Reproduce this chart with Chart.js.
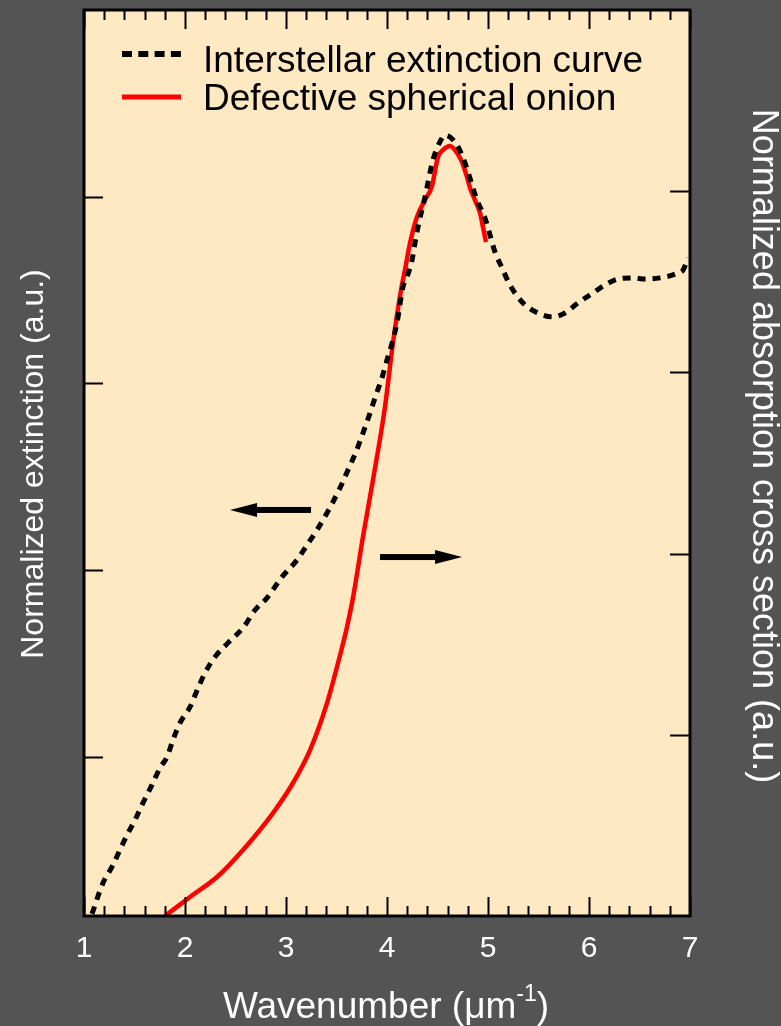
<!DOCTYPE html>
<html>
<head>
<meta charset="utf-8">
<script src="https://cdn.jsdelivr.net/npm/chart.js@4.4.1/dist/chart.umd.min.js"></script>
<style>
  html, body { margin: 0; padding: 0; background: #545454; }
  #wrap { width: 781px; height: 1026px; }
</style>
</head>
<body>
<div id="wrap"><canvas id="c" width="781" height="1026"></canvas></div>
<script>
// Interstellar extinction curve (left axis, normalized)
const extWavenumber = [1.079, 1.188, 1.277, 1.356, 1.426, 1.505, 1.584, 1.673, 1.752, 1.822, 1.881, 1.950,
  2.050, 2.129, 2.198, 2.297, 2.426, 2.574, 2.693, 2.812, 2.960, 3.109, 3.208, 3.307, 3.406, 3.535, 3.614,
  3.693, 3.762, 3.832, 3.891, 3.950, 4.000, 4.050, 4.099, 4.158, 4.198, 4.248, 4.277, 4.307, 4.376, 4.455,
  4.545, 4.574, 4.693, 4.772, 4.891, 4.970, 5.020, 5.069, 5.139, 5.218, 5.337, 5.495, 5.644, 5.762, 5.891,
  6.040, 6.158, 6.287, 6.436, 6.554, 6.703, 6.881, 6.931, 6.980];
const extinction = [0.158, 0.324, 0.410, 0.501, 0.581, 0.661, 0.753, 0.849, 0.940, 0.999, 1.090, 1.181,
  1.267, 1.368, 1.449, 1.535, 1.610, 1.690, 1.786, 1.851, 1.963, 2.054, 2.134, 2.215, 2.306, 2.440, 2.536,
  2.633, 2.734, 2.841, 2.938, 3.029, 3.125, 3.216, 3.324, 3.516, 3.570, 3.661, 3.752, 3.838, 3.998, 4.197,
  4.314, 4.330, 4.277, 4.181, 3.982, 3.886, 3.795, 3.704, 3.618, 3.527, 3.436, 3.377, 3.356, 3.377, 3.431,
  3.484, 3.527, 3.559, 3.565, 3.559, 3.565, 3.591, 3.607, 3.672];

// Defective spherical onion absorption cross section (right axis, normalized)
const onionWavenumber = [1.802, 2.050, 2.317, 2.574, 2.871, 3.069, 3.238, 3.406, 3.515, 3.604, 3.663, 3.762,
  3.861, 3.980, 4.059, 4.139, 4.178, 4.228, 4.297, 4.376, 4.446, 4.505, 4.554, 4.624, 4.693, 4.743, 4.792,
  4.822, 4.871, 4.921, 4.950, 4.980];
const onionCrossSection = [0.000, 0.105, 0.215, 0.364, 0.568, 0.734, 0.916, 1.175, 1.396, 1.595, 1.755, 2.092,
  2.406, 2.809, 3.162, 3.455, 3.565, 3.714, 3.858, 3.951, 4.030, 4.189, 4.227, 4.249, 4.211, 4.161, 4.078,
  4.018, 3.951, 3.880, 3.802, 3.720];

// Axis ticks
const xTickLabels = ['1', '2', '3', '4', '5', '6', '7'];
const leftTicks = [1, 2, 3, 4];
const rightTicks = [1, 2, 3, 4];

const FONT = '"Liberation Sans", Arial, sans-serif';
const BG = '#545454';
const PLOT_BG = '#FEE9C3';

function pairs(xs, ys) { return xs.map((x, i) => ({ x: x, y: ys[i] })); }

const framePlugin = {
  id: 'frame',
  beforeDraw(chart) {
    const { ctx, chartArea: a } = chart;
    ctx.save();
    ctx.fillStyle = BG;
    ctx.fillRect(0, 0, chart.width, chart.height);
    ctx.fillStyle = PLOT_BG;
    ctx.fillRect(a.left, a.top, a.right - a.left, a.bottom - a.top);
    ctx.restore();
  },
  afterDatasetsDraw(chart) {
    const { ctx, chartArea: a, scales } = chart;
    const xs = scales.x, yl = scales.y, yr = scales.y2;
    ctx.save();

    // inward tick marks
    ctx.strokeStyle = '#000';
    ctx.lineWidth = 2;
    ctx.beginPath();
    for (let i = 0; i <= 30; i++) {
      const v = 1 + i * 0.2;
      const px = Math.round(xs.getPixelForValue(v)) + 0.5;
      const len = (i % 5 === 0) ? 19 : 10;
      ctx.moveTo(px, a.bottom); ctx.lineTo(px, a.bottom - len);
      ctx.moveTo(px, a.top); ctx.lineTo(px, a.top + len);
    }
    leftTicks.forEach(v => {
      const py = Math.round(yl.getPixelForValue(v)) + 0.5;
      ctx.moveTo(a.left, py); ctx.lineTo(a.left + 19, py);
    });
    rightTicks.forEach(v => {
      const py = Math.round(yr.getPixelForValue(v)) + 0.5;
      ctx.moveTo(a.right, py); ctx.lineTo(a.right - 20, py);
    });
    ctx.stroke();

    // plot frame
    ctx.lineWidth = 3;
    ctx.strokeRect(a.left, a.top, a.right - a.left, a.bottom - a.top);

    // arrows pointing to each curve's axis
    function arrow(x0, x1, py) {
      const p0 = xs.getPixelForValue(x0), p1 = xs.getPixelForValue(x1);
      const dir = Math.sign(p1 - p0);
      const headLen = 27, headHalf = 7;
      ctx.fillStyle = '#000';
      ctx.fillRect(Math.min(p0, p1 - dir * headLen), py - 3, Math.abs(p1 - dir * headLen - p0), 6);
      ctx.beginPath();
      ctx.moveTo(p1, py);
      ctx.lineTo(p1 - dir * headLen, py - headHalf);
      ctx.lineTo(p1 - dir * headLen, py + headHalf);
      ctx.closePath();
      ctx.fill();
    }
    arrow(3.248, 2.446, yl.getPixelForValue(2.322));
    arrow(3.931, 4.743, yr.getPixelForValue(1.981));

    // legend
    const lx = a.left + 38, lx2 = a.left + 97;
    ctx.strokeStyle = '#000';
    ctx.lineWidth = 6;
    ctx.setLineDash([10, 6.3]);
    ctx.beginPath(); ctx.moveTo(lx, a.top + 44); ctx.lineTo(lx2, a.top + 44); ctx.stroke();
    ctx.setLineDash([]);
    ctx.strokeStyle = '#ff0000';
    ctx.lineWidth = 5;
    ctx.beginPath(); ctx.moveTo(lx, a.top + 87); ctx.lineTo(lx2, a.top + 87); ctx.stroke();
    ctx.fillStyle = '#000';
    ctx.font = '37px ' + FONT;
    ctx.textAlign = 'left';
    ctx.textBaseline = 'alphabetic';
    ctx.fillText('Interstellar extinction curve', a.left + 119, a.top + 62);
    ctx.fillText('Defective spherical onion', a.left + 119, a.top + 100);

    // axis titles
    ctx.fillStyle = '#ffffff';
    const big = '37px ' + FONT, small = '23px ' + FONT;
    ctx.font = big;
    const wMain = ctx.measureText('Wavenumber (\u03bcm').width;
    const wClose = ctx.measureText(')').width;
    ctx.font = small;
    const wSup = ctx.measureText('-1').width;
    const total = wMain + wSup + wClose;
    let tx = 386 - total / 2;
    const base = 1018;
    ctx.font = big; ctx.fillText('Wavenumber (\u03bcm', tx, base); tx += wMain;
    ctx.font = small; ctx.fillText('-1', tx, base - 17); tx += wSup;
    ctx.font = big; ctx.fillText(')', tx, base);

    ctx.textAlign = 'center';
    ctx.textBaseline = 'middle';
    ctx.font = '32px ' + FONT;
    ctx.save();
    ctx.translate(34, 464);
    ctx.rotate(-Math.PI / 2);
    ctx.fillText('Normalized extinction (a.u.)', 0, 0);
    ctx.restore();
    ctx.font = '36px ' + FONT;
    ctx.save();
    ctx.translate(763, 446);
    ctx.rotate(Math.PI / 2);
    ctx.fillText('Normalized absorption cross section (a.u.)', 0, 0);
    ctx.restore();

    ctx.restore();
  }
};

new Chart(document.getElementById('c'), {
  type: 'line',
  data: {
    datasets: [
      {
        label: 'Interstellar extinction curve',
        data: pairs(extWavenumber, extinction),
        yAxisID: 'y',
        borderColor: '#000000',
        borderWidth: 5,
        borderDash: [8, 7],
        borderCapStyle: 'butt',
        cubicInterpolationMode: 'monotone',
        pointRadius: 0,
        fill: false
      },
      {
        label: 'Defective spherical onion',
        data: pairs(onionWavenumber, onionCrossSection),
        yAxisID: 'y2',
        borderColor: '#ff0000',
        borderWidth: 4.5,
        cubicInterpolationMode: 'monotone',
        pointRadius: 0,
        fill: false
      }
    ]
  },
  options: {
    responsive: false,
    devicePixelRatio: 1,
    animation: false,
    layout: { padding: { top: 10, left: 0, right: 0, bottom: 0 } },
    plugins: { legend: { display: false }, tooltip: { enabled: false } },
    scales: {
      x: {
        type: 'linear', position: 'bottom', min: 1, max: 7,
        grid: { display: false, drawTicks: false },
        border: { display: false },
        ticks: {
          stepSize: 1, color: '#ffffff', padding: 15,
          font: { family: FONT, size: 30 },
          callback: v => xTickLabels[Math.round(v) - 1]
        },
        afterFit: s => { s.height = 110; }
      },
      y: {
        type: 'linear', position: 'left', min: 0.147, max: 5,
        grid: { display: false, drawTicks: false },
        border: { display: false },
        ticks: { display: false },
        afterFit: s => { s.width = 84; }
      },
      y2: {
        type: 'linear', position: 'right', min: 0, max: 5,
        grid: { display: false, drawTicks: false },
        border: { display: false },
        ticks: { display: false },
        afterFit: s => { s.width = 91; }
      }
    }
  },
  plugins: [framePlugin]
});
</script>
</body>
</html>
